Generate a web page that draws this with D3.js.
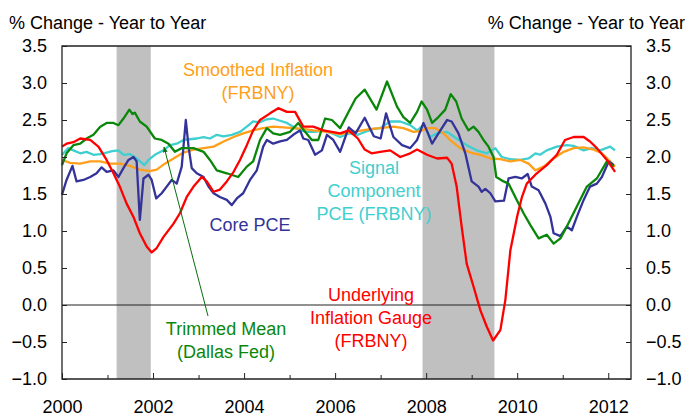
<!DOCTYPE html>
<html>
<head>
<meta charset="utf-8">
<script src="https://cdn.jsdelivr.net/npm/d3@7"></script>
<style>
  body { margin: 0; background: #fff; }
  svg text { font-family: "Liberation Sans", Arial, sans-serif; }
</style>
</head>
<body>
<div id="chart"></div>
<script>
// values, [year, % change y/y]
var underlyingGauge = [[2000.0,2.14],[2000.1,2.18],[2000.25,2.2],[2000.4,2.25],[2000.62,2.23],[2000.8,2.14],[2000.98,1.96],[2001.13,1.78],[2001.27,1.60],[2001.42,1.37],[2001.57,1.19],[2001.71,0.97],[2001.86,0.79],[2001.97,0.71],[2002.08,0.77],[2002.23,0.92],[2002.45,1.10],[2002.59,1.24],[2002.74,1.46],[2002.89,1.60],[2003.07,1.73],[2003.18,1.67],[2003.33,1.53],[2003.47,1.56],[2003.62,1.67],[2003.77,1.80],[2003.91,1.96],[2004.06,2.16],[2004.2,2.36],[2004.35,2.5],[2004.57,2.59],[2004.75,2.66],[2004.94,2.61],[2005.12,2.61],[2005.3,2.41],[2005.52,2.41],[2005.74,2.36],[2006.11,2.32],[2006.3,2.36],[2006.5,2.25],[2006.65,2.1],[2006.8,2.05],[2006.99,2.07],[2007.21,2.09],[2007.43,2.0],[2007.65,2.05],[2007.8,2.1],[2008.02,2.03],[2008.24,1.98],[2008.46,1.99],[2008.56,1.91],[2008.67,1.60],[2008.78,1.06],[2008.89,0.56],[2009.04,0.25],[2009.19,-0.07],[2009.33,-0.29],[2009.47,-0.48],[2009.63,-0.34],[2009.74,0.07],[2009.85,0.74],[2010.0,1.2],[2010.1,1.45],[2010.21,1.64],[2010.43,1.78],[2010.65,1.89],[2010.87,2.03],[2011.05,2.23],[2011.24,2.27],[2011.46,2.27],[2011.6,2.21],[2011.75,2.12],[2011.97,1.96],[2012.15,1.80]];

var trimmedMean = [[2000.0,1.89],[2000.1,2.05],[2000.25,2.16],[2000.4,2.18],[2000.54,2.25],[2000.69,2.30],[2000.84,2.41],[2000.98,2.46],[2001.13,2.46],[2001.24,2.43],[2001.35,2.52],[2001.48,2.64],[2001.55,2.58],[2001.6,2.60],[2001.71,2.48],[2001.86,2.41],[2002.04,2.25],[2002.19,2.23],[2002.34,2.18],[2002.48,2.07],[2002.63,2.12],[2002.89,2.12],[2003.11,2.07],[2003.25,1.96],[2003.4,1.82],[2003.62,1.78],[2003.87,1.73],[2004.06,1.87],[2004.2,1.94],[2004.35,2.23],[2004.5,2.39],[2004.64,2.32],[2004.79,2.30],[2005.01,2.34],[2005.19,2.46],[2005.34,2.34],[2005.49,2.23],[2005.63,2.23],[2005.78,2.52],[2005.93,2.50],[2006.11,2.39],[2006.28,2.59],[2006.45,2.79],[2006.65,2.91],[2006.91,2.64],[2007.14,3.02],[2007.36,2.68],[2007.5,2.54],[2007.65,2.46],[2007.8,2.61],[2007.9,2.75],[2008.02,2.64],[2008.13,2.46],[2008.27,2.54],[2008.42,2.64],[2008.54,2.85],[2008.66,2.75],[2008.78,2.52],[2008.93,2.36],[2009.04,2.41],[2009.15,2.34],[2009.26,2.23],[2009.37,2.14],[2009.48,2.0],[2009.54,1.73],[2009.7,1.67],[2009.81,1.64],[2009.99,1.42],[2010.14,1.24],[2010.29,1.08],[2010.47,0.9],[2010.65,0.95],[2010.8,0.83],[2010.95,0.9],[2011.09,1.06],[2011.31,1.33],[2011.53,1.60],[2011.75,1.71],[2011.97,1.94],[2012.12,1.87]];

var corePCE = [[2000.0,1.49],[2000.1,1.69],[2000.23,1.88],[2000.32,1.67],[2000.47,1.69],[2000.62,1.73],[2000.76,1.78],[2000.87,1.86],[2000.98,1.80],[2001.13,1.82],[2001.24,1.73],[2001.35,1.85],[2001.46,1.96],[2001.57,2.0],[2001.64,1.94],[2001.71,1.15],[2001.79,1.71],[2001.9,1.76],[2001.97,1.69],[2002.07,1.44],[2002.19,1.51],[2002.3,1.60],[2002.41,1.69],[2002.52,1.64],[2002.63,1.87],[2002.72,2.5],[2002.78,2.14],[2002.85,1.85],[2002.96,1.78],[2003.11,1.73],[2003.22,1.60],[2003.33,1.51],[2003.47,1.46],[2003.62,1.42],[2003.73,1.35],[2003.84,1.44],[2003.98,1.51],[2004.13,1.69],[2004.28,1.82],[2004.42,2.14],[2004.5,2.23],[2004.64,2.18],[2004.79,2.21],[2004.94,2.23],[2005.08,2.30],[2005.23,2.36],[2005.3,2.25],[2005.41,2.23],[2005.56,2.03],[2005.71,2.09],[2005.82,2.30],[2005.96,2.23],[2006.11,2.07],[2006.3,2.4],[2006.45,2.32],[2006.65,2.53],[2006.85,2.28],[2007.0,2.25],[2007.12,2.59],[2007.28,2.27],[2007.47,2.16],[2007.65,2.12],[2007.8,2.23],[2007.94,2.46],[2008.02,2.35],[2008.13,2.18],[2008.27,2.32],[2008.46,2.5],[2008.56,2.48],[2008.71,2.32],[2008.86,2.05],[2009.0,1.67],[2009.15,1.60],[2009.22,1.53],[2009.3,1.57],[2009.41,1.51],[2009.52,1.40],[2009.71,1.41],[2009.81,1.71],[2009.96,1.73],[2010.1,1.71],[2010.23,1.77],[2010.32,1.60],[2010.47,1.55],[2010.62,1.37],[2010.73,1.19],[2010.8,0.97],[2010.95,0.93],[2011.09,1.06],[2011.2,1.01],[2011.31,1.19],[2011.46,1.42],[2011.6,1.60],[2011.75,1.64],[2011.86,1.73],[2012.01,1.94],[2012.12,1.89]];

var signalComponent = [[2000.0,2.03],[2000.14,2.12],[2000.25,2.09],[2000.4,2.05],[2000.54,2.07],[2000.69,2.03],[2000.84,2.04],[2000.98,2.06],[2001.1,2.08],[2001.24,2.09],[2001.35,2.03],[2001.49,2.04],[2001.64,1.98],[2001.81,1.89],[2001.9,1.96],[2002.04,2.03],[2002.23,2.09],[2002.37,2.16],[2002.52,2.18],[2002.67,2.23],[2002.81,2.24],[2002.96,2.25],[2003.11,2.27],[2003.25,2.25],[2003.4,2.30],[2003.55,2.28],[2003.73,2.30],[2003.91,2.34],[2004.06,2.41],[2004.2,2.48],[2004.35,2.47],[2004.5,2.51],[2004.64,2.52],[2004.79,2.49],[2004.94,2.46],[2005.08,2.41],[2005.23,2.36],[2005.38,2.34],[2005.56,2.34],[2005.74,2.36],[2005.93,2.32],[2006.11,2.27],[2006.3,2.32],[2006.5,2.30],[2006.7,2.35],[2006.85,2.38],[2006.99,2.39],[2007.21,2.48],[2007.43,2.48],[2007.65,2.43],[2007.8,2.36],[2007.94,2.43],[2008.09,2.27],[2008.24,2.32],[2008.46,2.34],[2008.67,2.25],[2008.89,2.16],[2009.11,2.09],[2009.33,2.05],[2009.52,2.12],[2009.66,2.0],[2009.85,1.97],[2010.07,1.96],[2010.25,1.98],[2010.4,2.05],[2010.5,2.03],[2010.65,2.09],[2010.87,2.14],[2011.09,2.16],[2011.24,2.15],[2011.46,2.09],[2011.64,2.12],[2011.82,2.09],[2012.04,2.14],[2012.15,2.09]];

var smoothedInflation = [[2000.0,1.96],[2000.18,1.92],[2000.4,1.91],[2000.62,1.94],[2000.84,1.94],[2001.05,1.91],[2001.27,1.91],[2001.49,1.88],[2001.71,1.83],[2001.93,1.81],[2002.08,1.83],[2002.26,1.91],[2002.45,1.98],[2002.67,2.06],[2002.89,2.10],[2003.11,2.12],[2003.33,2.14],[2003.55,2.21],[2003.77,2.27],[2003.98,2.32],[2004.2,2.36],[2004.42,2.39],[2004.64,2.41],[2004.86,2.40],[2005.08,2.39],[2005.3,2.38],[2005.52,2.36],[2005.82,2.34],[2006.11,2.31],[2006.5,2.35],[2006.8,2.38],[2006.99,2.39],[2007.28,2.41],[2007.5,2.39],[2007.72,2.34],[2007.87,2.35],[2008.02,2.39],[2008.2,2.39],[2008.38,2.32],[2008.56,2.21],[2008.75,2.12],[2008.97,2.06],[2009.19,2.03],[2009.41,1.98],[2009.63,1.97],[2009.85,1.94],[2010.07,1.96],[2010.25,1.91],[2010.4,1.82],[2010.58,1.87],[2010.8,1.98],[2011.02,2.07],[2011.24,2.12],[2011.46,2.13],[2011.68,2.10],[2011.86,2.05],[2012.04,1.94],[2012.15,1.87]];

var recessions = [[2001.2, 2001.95], [2007.92, 2009.5]];
var yTicks = [-1.0, -0.5, 0.0, 0.5, 1.0, 1.5, 2.0, 2.5, 3.0, 3.5];
var xLabels = [2000, 2002, 2004, 2006, 2008, 2010, 2012];
var yTitle = '% Change - Year to Year';

var width = 689, height = 417;
var plotLeft = 62, plotRight = 631, plotTop = 46, plotBottom = 379;

var svg = d3.select('#chart').append('svg')
    .attr('width', width)
    .attr('height', height);

var x = d3.scaleLinear().domain([2000, 2012.5]).range([plotLeft, plotRight]);
var y = d3.scaleLinear().domain([-1, 3.5]).range([plotBottom, plotTop]);

// recession bars
svg.selectAll('rect.rec')
    .data(recessions).enter()
    .append('rect')
    .attr('x', function (d) { return x(d[0]); })
    .attr('width', function (d) { return x(d[1]) - x(d[0]); })
    .attr('y', y(3.5))
    .attr('height', y(-1) - y(3.5))
    .attr('fill', '#c0c0c0');

// zero line
svg.append('line')
    .attr('x1', plotLeft).attr('x2', plotRight)
    .attr('y1', y(0)).attr('y2', y(0))
    .attr('stroke', '#222').attr('stroke-width', 1);

var line = d3.line()
    .x(function (d) { return x(d[0]); })
    .y(function (d) { return y(d[1]); });

var series = [
    { data: signalComponent, color: '#3fcfcf' },
    { data: smoothedInflation, color: '#ff9f1a' },
    { data: corePCE, color: '#333399' },
    { data: trimmedMean, color: '#0a870a' },
    { data: underlyingGauge, color: '#ff0000' }
];

svg.selectAll('path.series')
    .data(series).enter()
    .append('path')
    .attr('d', function (d) { return line(d.data); })
    .attr('fill', 'none')
    .attr('stroke', function (d) { return d.color; })
    .attr('stroke-width', 2.3)
    .attr('stroke-linejoin', 'round');

// axes: inward ticks
var yLeft = d3.axisLeft(y).tickValues(yTicks).tickSize(-5).tickFormat(d3.format('.1f'));
var yRight = d3.axisRight(y).tickValues(yTicks).tickSize(-5).tickFormat(d3.format('.1f'));
var xMinor = d3.axisBottom(x).tickValues(d3.range(2001, 2013, 2)).tickSize(-4).tickFormat('');
var xMajor = d3.axisBottom(x).tickValues(xLabels).tickSize(-6).tickFormat(d3.format('d'));

function styleAxis(g) {
    g.select('.domain').remove();
    g.selectAll('line').attr('stroke', '#222');
    g.selectAll('text').attr('fill', '#000').style('font-size', '18px');
}

svg.append('g').attr('transform', 'translate(' + plotLeft + ',0)').call(yLeft).call(styleAxis)
    .selectAll('text').attr('x', -15);
svg.append('g').attr('transform', 'translate(' + plotRight + ',0)').call(yRight).call(styleAxis)
    .selectAll('text').attr('x', 15);
svg.append('g').attr('transform', 'translate(0,' + plotBottom + ')').call(xMinor).call(styleAxis);
svg.append('g').attr('transform', 'translate(0,' + plotBottom + ')').call(xMajor).call(styleAxis)
    .selectAll('text').attr('y', 21);

// frame
svg.append('path')
    .attr('d', 'M' + plotLeft + ',' + plotBottom + 'V' + plotTop + 'H' + plotRight + 'V' + plotBottom + 'Z')
    .attr('fill', 'none')
    .attr('stroke', '#222')
    .attr('stroke-width', 1.3);

// axis titles
svg.append('text').attr('x', 9).attr('y', 29).style('font-size', '18px').text(yTitle);
svg.append('text').attr('x', 685).attr('y', 29).attr('text-anchor', 'end').style('font-size', '18px').text(yTitle);

// annotations
var notes = [
    { lines: ['Smoothed Inflation', '(FRBNY)'], x: 258, y: 76, color: '#ff9f1a' },
    { lines: ['Signal', 'Component', 'PCE (FRBNY)'], x: 374, y: 174, color: '#3fcfcf' },
    { lines: ['Core PCE'], x: 250, y: 231, color: '#333399' },
    { lines: ['Underlying', 'Inflation Gauge', '(FRBNY)'], x: 371, y: 301, color: '#ff0000' },
    { lines: ['Trimmed Mean', '(Dallas Fed)'], x: 226, y: 335, color: '#0a870a' }
];

notes.forEach(function (n) {
    var t = svg.append('text')
        .attr('text-anchor', 'middle')
        .attr('fill', n.color)
        .style('font-size', '18px');
    n.lines.forEach(function (s, i) {
        t.append('tspan').attr('x', n.x).attr('y', n.y + i * 23).text(s);
    });
});

// pointer to trimmed mean line
svg.append('defs').append('marker')
    .attr('id', 'arr')
    .attr('viewBox', '0 0 10 10')
    .attr('refX', 9).attr('refY', 5)
    .attr('markerWidth', 6).attr('markerHeight', 6)
    .attr('orient', 'auto')
    .append('path').attr('d', 'M0,1L10,5L0,9Z').attr('fill', '#0a6e0a');

svg.append('line')
    .attr('x1', 208).attr('y1', 316)
    .attr('x2', 164).attr('y2', 147)
    .attr('stroke', '#0a6e0a')
    .attr('stroke-width', 1)
    .attr('marker-end', 'url(#arr)');
</script>
</body>
</html>
